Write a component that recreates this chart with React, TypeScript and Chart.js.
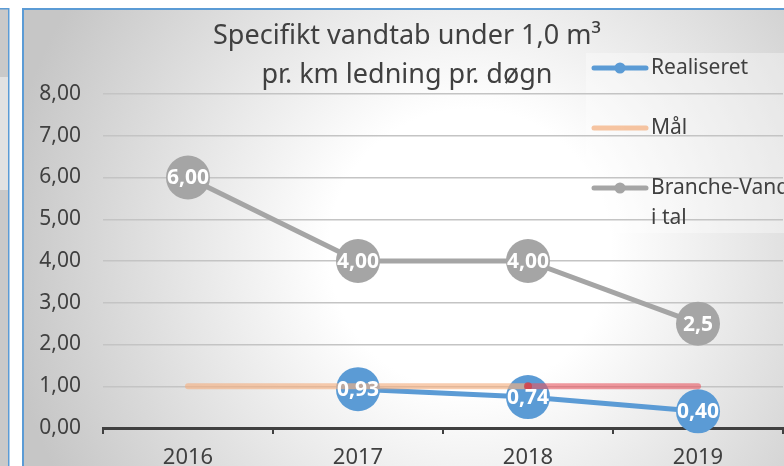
import React, { useEffect, useRef } from "react";
import { Chart, registerables } from "chart.js";

Chart.register(...registerables);

const years = ["2016", "2017", "2018", "2019"];
const realiseret = [null, 0.93, 0.74, 0.4];
const maal = [1, 1, 1, 1];
const branche = [6, 4, 4, 2.5];
const realiseretLabels = ["", "0,93", "0,74", "0,40"];
const brancheLabels = ["6,00", "4,00", "4,00", "2,5"];
const titleLines = ["Specifikt vandtab under 1,0 m³", "pr. km ledning pr. døgn"];
const legendNames = ["Realiseret", "Mål", "Branche-Vand i tal"];
const yMin = 0;
const yMax = 8;
const yStep = 1;

const FONT = "'Noto Sans', sans-serif";
const TEXT = "#404040";
const BLUE = "#5b9bd5";
const GRAY = "#a5a5a5";
const PEACH = "rgba(244,177,131,0.65)";
const RED = "rgba(232,85,95,0.6)";

const backgroundPlugin = {
  id: "bgPanel",
  beforeDraw(chart: any) {
    const { ctx, width, height } = chart;
    ctx.save();
    ctx.fillStyle = "#ffffff";
    ctx.fillRect(0, 0, width, height);
    // left neighbour panel
    ctx.fillStyle = "#c9c9c9";
    ctx.fillRect(0, 8, 9, height - 8);
    ctx.fillStyle = "#e2e2e2";
    ctx.fillRect(0, 77, 8, 113);
    ctx.fillStyle = BLUE;
    ctx.fillRect(0, 8, 9, 1.5);
    ctx.fillRect(8, 8, 1.5, height - 8);
    // main panel gradient
    const g = ctx.createRadialGradient(470, 250, 0, 470, 250, 470);
    g.addColorStop(0, "#ffffff");
    g.addColorStop(0.3, "#ffffff");
    g.addColorStop(1, "#c6c6c6");
    ctx.fillStyle = g;
    ctx.fillRect(23, 9, width - 23, height - 9);
    ctx.fillStyle = BLUE;
    ctx.fillRect(22, 8, width - 22, 2);
    ctx.fillRect(22, 8, 2, height - 8);
    // legend box
    ctx.fillStyle = "rgba(255,255,255,0.35)";
    ctx.fillRect(586, 53, width - 586, 180);
    ctx.restore();
  },
};

const labelsPlugin = {
  id: "pointLabels",
  afterDatasetsDraw(chart: any) {
    const { ctx } = chart;
    ctx.save();
    ctx.fillStyle = "#ffffff";
    ctx.font = `bold 21px ${FONT}`;
    ctx.textAlign = "center";
    ctx.textBaseline = "middle";
    const sets: [number, string[]][] = [
      [0, realiseretLabels],
      [2, brancheLabels],
    ];
    sets.forEach(([di, labels]) => {
      const meta = chart.getDatasetMeta(di);
      meta.data.forEach((pt: any, i: number) => {
        const txt = labels[i];
        if (!txt || pt.skip) return;
        ctx.fillText(txt, pt.x, pt.y + 1);
      });
    });
    ctx.restore();
  },
};

const titleLegendPlugin = {
  id: "titleLegend",
  afterDraw(chart: any) {
    const { ctx } = chart;
    ctx.save();
    ctx.fillStyle = TEXT;
    ctx.textAlign = "center";
    ctx.textBaseline = "alphabetic";
    ctx.font = `27px ${FONT}`;
    ctx.fillText(titleLines[0], 407, 44);
    ctx.fillText(titleLines[1], 407, 83);

    // legend
    const rows = [
      { y: 68, color: BLUE, marker: true },
      { y: 128, color: "rgba(244,177,131,0.75)", marker: false },
      { y: 188, color: GRAY, marker: true },
    ];
    rows.forEach((r) => {
      ctx.strokeStyle = r.color;
      ctx.lineWidth = 5;
      ctx.lineCap = "round";
      ctx.beginPath();
      ctx.moveTo(594, r.y);
      ctx.lineTo(646, r.y);
      ctx.stroke();
      if (r.marker) {
        ctx.fillStyle = r.color;
        ctx.beginPath();
        ctx.arc(620, r.y, 5.5, 0, Math.PI * 2);
        ctx.fill();
      }
    });
    ctx.fillStyle = TEXT;
    ctx.font = `21px ${FONT}`;
    ctx.textAlign = "left";
    ctx.textBaseline = "middle";
    ctx.fillText(legendNames[0], 651, 68);
    ctx.fillText(legendNames[1], 651, 128);
    const words = legendNames[2].split(" ");
    ctx.fillText(words[0], 651, 188);
    ctx.fillText(words.slice(1).join(" "), 651, 218);
    ctx.restore();
  },
};

export default function App() {
  const ref = useRef<HTMLCanvasElement | null>(null);

  useEffect(() => {
    if (!ref.current) return;
    const chart = new Chart(ref.current, {
      type: "line",
      data: {
        labels: years,
        datasets: [
          {
            label: legendNames[0],
            data: realiseret,
            borderColor: BLUE,
            backgroundColor: BLUE,
            borderWidth: 5,
            pointRadius: 22,
            pointBorderWidth: 0,
            pointBackgroundColor: BLUE,
            clip: false,
            order: 2,
          },
          {
            label: legendNames[1],
            data: maal,
            borderColor: PEACH,
            borderWidth: 6,
            borderCapStyle: "round",
            pointRadius: [0, 0, 4, 0],
            pointBorderWidth: 0,
            pointBackgroundColor: "rgba(205,60,70,0.75)",
            segment: {
              borderColor: (c: any) => (c.p0DataIndex >= 2 ? RED : PEACH),
            },
            clip: false,
            order: 1,
          },
          {
            label: legendNames[2],
            data: branche,
            borderColor: GRAY,
            backgroundColor: GRAY,
            borderWidth: 5,
            pointRadius: 22,
            pointBorderWidth: 0,
            pointBackgroundColor: GRAY,
            clip: false,
            order: 3,
          },
        ],
      },
      options: {
        responsive: false,
        animation: false,
        events: [],
        layout: { autoPadding: false, padding: { left: 0, top: 94, right: 1, bottom: 0 } },
        plugins: {
          legend: { display: false },
          title: { display: false },
          tooltip: { enabled: false },
        },
        scales: {
          x: {
            type: "category",
            offset: true,
            afterFit: (s: any) => {
              s.height = 38;
            },
            grid: {
              display: true,
              offset: true,
              drawOnChartArea: false,
              drawTicks: true,
              tickLength: 6,
              color: TEXT,
              lineWidth: 2,
            },
            border: { display: true, color: TEXT, width: 3 },
            ticks: {
              color: TEXT,
              font: { family: FONT, size: 22 },
              padding: 11,
              maxRotation: 0,
            },
          },
          y: {
            min: yMin,
            max: yMax,
            afterFit: (s: any) => {
              s.width = 103;
            },
            grid: {
              color: "#c4c4c4",
              lineWidth: 1.5,
              drawTicks: false,
            },
            border: { display: false },
            ticks: {
              stepSize: yStep,
              color: TEXT,
              padding: 22,
              font: { family: FONT, size: 21 },
              callback: (v: any) => Number(v).toFixed(2).replace(".", ","),
            },
          },
        },
      },
      plugins: [backgroundPlugin, labelsPlugin, titleLegendPlugin],
    } as any);
    return () => chart.destroy();
  }, []);

  return (
    <div style={{ position: "absolute", left: 0, top: 0, width: 784, height: 466, overflow: "hidden" }}>
      <canvas ref={ref} width={784} height={466} style={{ display: "block" }} />
    </div>
  );
}
